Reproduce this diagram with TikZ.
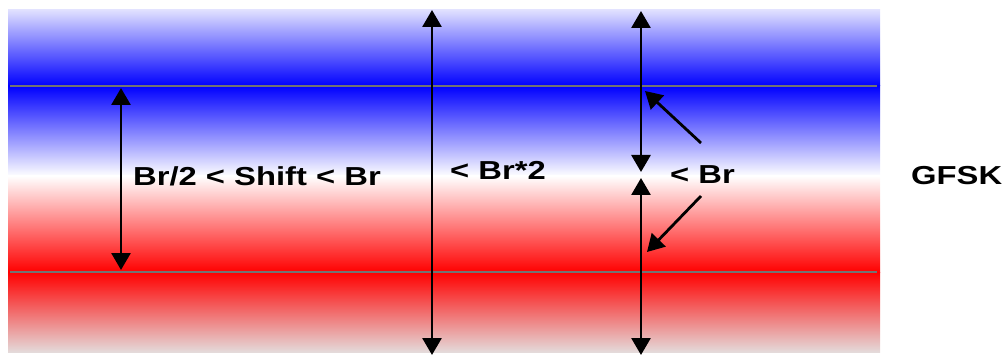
\documentclass[tikz,border=0pt]{standalone}
\usepackage{fontspec}
\setmainfont{Liberation Sans}
\newfontfamily\widesans[FakeStretch=1.26]{Liberation Sans}
\usetikzlibrary{positioning,arrows.meta}

\tikzset{
    dimarrow/.style={line width=2.8pt, {Triangle[length=17pt,width=19pt]}-{Triangle[length=17pt,width=19pt]}},
    ptrarrow/.style={line width=2.8pt, -{Triangle[length=17pt,width=19pt]}},
    level/.style={line width=2pt, gray!90!black},
    lbl/.style={font=\widesans\bfseries\fontsize{26}{30}\selectfont, inner sep=0pt, anchor=west}
}

\begin{document}
\begin{tikzpicture}[x=1pt,y=-1pt]
        \useasboundingbox (0,0) rectangle (1004,358);
        % colour bands
        \shade[top color=blue!12, bottom color=blue] (8,10) rectangle (880,86);
        \shade[top color=blue, bottom color=white] (8,86) rectangle (880,176);
        \shade[top color=white, bottom color=red] (8,176) rectangle (880,272);
        \shade[top color=red, bottom color=red!15!gray!25] (8,272) rectangle (880,352);
        % frequency levels
        \coordinate (hiL) at (10,86);
        \coordinate (hiR) at (877,86);
        \coordinate (loL) at (10,272);
        \coordinate (loR) at (877,272);
        \draw[level] (hiL) -- (hiR);
        \draw[level] (loL) -- (loR);
        % shift between the levels
        \coordinate (sA) at (121,88);
        \coordinate (sB) at (121,270);
        \draw[dimarrow] (sA) -- (sB);
        \node[lbl] (shift) at (133,176) {Br/2 < Shift < Br};
        % full span
        \coordinate (wA) at (432,10);
        \coordinate (wB) at (432,355);
        \draw[dimarrow] (wA) -- (wB);
        \node[lbl] (span) at (450,170) {< Br*2};
        % each half
        \coordinate (uA) at (641,11);
        \coordinate (uB) at (641,172);
        \coordinate (dA) at (641,178);
        \coordinate (dB) at (641,355);
        \draw[dimarrow] (uA) -- (uB);
        \draw[dimarrow] (dA) -- (dB);
        \node[lbl] (half) at (670,175) {< Br};
        \coordinate (pU) at (701,143);
        \coordinate (pD) at (701,196);
        \coordinate (tU) at (645,91);
        \coordinate (tD) at (647,252);
        \draw[ptrarrow] (pU) -- (tU);
        \draw[ptrarrow] (pD) -- (tD);
        \node[lbl] (mod) at (911,176) {GFSK};
    \end{tikzpicture}
\end{document}
